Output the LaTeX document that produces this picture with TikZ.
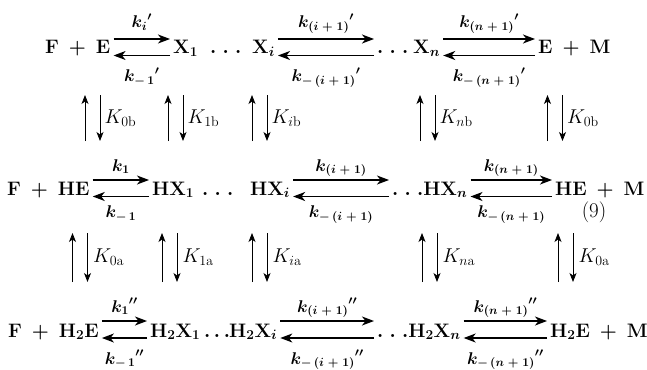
\RequirePackage{fix-cm}
\documentclass[tikz,border=0pt]{standalone}
\usepackage{amsmath}
\usetikzlibrary{arrows.meta,positioning}

\newcommand{\pls}{\mathbin{\mkern4mu+\mkern4mu}}
\newcommand{\dts}{.\;.\;.}

\begin{document}
\begin{tikzpicture}[x=1pt,y=-1pt,every node/.style={font=\fontsize{19.5}{22}\selectfont\boldmath,inner sep=3pt}]
\tikzstyle{sp}=[anchor=base west]
\tikzstyle{fwd}=[-{Stealth[length=12pt,width=9pt,inset=3.5pt]},line width=1.3pt]
\tikzstyle{vert}=[-{Stealth[length=9pt,width=7pt,inset=2.5pt]},line width=.8pt]
\tikzstyle{klab}=[anchor=base,inner sep=0pt,font=\fontsize{17}{20}\selectfont\boldmath]
\tikzstyle{Klab}=[anchor=west,inner sep=0pt,font=\fontsize{20}{23}\selectfont]

\useasboundingbox (0,0) rectangle (647,369);

% row E
\node[sp] (fe) at (42,54) {$\mathbf{F}\pls\mathbf{E}$};
\node[sp] (xa) at (170,54) {$\mathbf{X}_1$};
\node[sp] (d1a) at (207,54) {$\dts$};
\node[sp] (xi) at (249,54) {$\mathbf{X}_i$};
\node[sp] (d1b) at (374,54) {$\dts$};
\node[sp] (xn) at (410,54) {$\mathbf{X}_n$};
\node[sp] (em) at (535,54) {$\mathbf{E}\pls\mathbf{M}$};

% row HE
\node[sp] (fhe) at (4,195) {$\mathbf{F}\pls\mathbf{HE}$};
\node[sp] (hxa) at (149,195) {$\mathbf{HX}_1$};
\node[sp] (d2a) at (199,195) {$\dts$};
\node[sp] (hxi) at (247,195) {$\mathbf{HX}_i$};
\node[sp] (hxn) at (389,195) {$\dts\mathbf{HX}_n$};
\node[sp] (hem) at (552,195) {$\mathbf{HE}\pls\mathbf{M}$};
\node[font=\fontsize{21}{24}\selectfont] (eqno) at (594,212) {(9)};

% row H2E
\node[sp] (fhhe) at (5,337) {$\mathbf{F}\pls\mathbf{H}_2\mathbf{E}$};
\node[sp] (hhxa) at (147,337) {$\mathbf{H}_2\mathbf{X}_1\,.\,.\,.$};
\node[sp] (hhxi) at (226,337) {$\mathbf{H}_2\mathbf{X}_i$};
\node[sp] (hhxn) at (374,337) {$\dts\mathbf{H}_2\mathbf{X}_n$};
\node[sp] (hhem) at (547,337) {$\mathbf{H}_2\mathbf{E}\pls\mathbf{M}$};

% reaction arrows, row E
\draw[fwd] ([yshift=15pt]fe.base east) -- ([yshift=15pt]xa.base west) node[klab,midway,yshift=11pt] (k1f) {${k_i}'$};
\draw[fwd] ([yshift=-1.5pt]xa.base west) -- ([yshift=-1.5pt]fe.base east) node[klab,midway,yshift=-26pt] (k1r) {${k_{-\,1}}'$};
\draw[fwd] ([yshift=15pt]xi.base east) -- ([yshift=15pt]d1b.base west) node[klab,midway,yshift=11pt] (k2f) {${k_{(i\;+\;1)}}'$};
\draw[fwd] ([yshift=-1.5pt]d1b.base west) -- ([yshift=-1.5pt]xi.base east) node[klab,midway,yshift=-26pt] (k2r) {${k_{-\,(i\;+\;1)}}'$};
\draw[fwd] ([yshift=15pt]xn.base east) -- ([yshift=15pt]em.base west) node[klab,midway,yshift=11pt] (k3f) {${k_{(n\;+\;1)}}'$};
\draw[fwd] ([yshift=-1.5pt]em.base west) -- ([yshift=-1.5pt]xn.base east) node[klab,midway,yshift=-26pt] (k3r) {${k_{-\,(n\;+\;1)}}'$};

% reaction arrows, row HE
\draw[fwd] ([yshift=15pt]fhe.base east) -- ([yshift=15pt]hxa.base west) node[klab,midway,yshift=9pt] (k4f) {$k_1$};
\draw[fwd] ([yshift=-1.5pt]hxa.base west) -- ([yshift=-1.5pt]fhe.base east) node[klab,midway,yshift=-21pt] (k4r) {$k_{-\,1}$};
\draw[fwd] ([yshift=15pt]hxi.base east) -- ([yshift=15pt]hxn.base west) node[klab,midway,yshift=9pt] (k5f) {$k_{(i\;+\;1)}$};
\draw[fwd] ([yshift=-1.5pt]hxn.base west) -- ([yshift=-1.5pt]hxi.base east) node[klab,midway,yshift=-21pt] (k5r) {$k_{-\,(i\;+\;1)}$};
\draw[fwd] ([yshift=15pt]hxn.base east) -- ([yshift=15pt]hem.base west) node[klab,midway,yshift=9pt] (k6f) {$k_{(n\;+\;1)}$};
\draw[fwd] ([yshift=-1.5pt]hem.base west) -- ([yshift=-1.5pt]hxn.base east) node[klab,midway,yshift=-21pt] (k6r) {$k_{-\,(n\;+\;1)}$};

% reaction arrows, row H2E
\draw[fwd] ([yshift=16pt]fhhe.base east) -- ([yshift=16pt]hhxa.base west) node[klab,midway,yshift=9pt] (k7f) {${k_1}''$};
\draw[fwd] ([yshift=-1pt]hhxa.base west) -- ([yshift=-1pt]fhhe.base east) node[klab,midway,yshift=-26pt] (k7r) {${k_{-\,1}}''$};
\draw[fwd] ([yshift=16pt]hhxi.base east) -- ([yshift=16pt]hhxn.base west) node[klab,midway,yshift=9pt] (k8f) {${k_{(i\;+\;1)}}''$};
\draw[fwd] ([yshift=-1pt]hhxn.base west) -- ([yshift=-1pt]hhxi.base east) node[klab,midway,yshift=-26pt] (k8r) {${k_{-\,(i\;+\;1)}}''$};
\draw[fwd] ([yshift=16pt]hhxn.base east) -- ([yshift=16pt]hhem.base west) node[klab,midway,yshift=9pt] (k9f) {${k_{(n\;+\;1)}}''$};
\draw[fwd] ([yshift=-1pt]hhem.base west) -- ([yshift=-1pt]hhxn.base east) node[klab,midway,yshift=-26pt] (k9r) {${k_{-\,(n\;+\;1)}}''$};

% protonation equilibria E <-> HE
\coordinate (cb0) at (92.5,118);
\coordinate (cb1) at (175.5,118);
\coordinate (cbi) at (259.5,118);
\coordinate (cbn) at (427.5,118);
\coordinate (cbe) at (555,118);
\draw[vert] ([xshift=-7.5pt,yshift=-23pt]cb0) -- ++(0pt,46pt);
\draw[vert] ([xshift=7.5pt,yshift=23pt]cb0) -- ++(0pt,-46pt);
\node[Klab] (Kb0) at ([xshift=12pt]cb0) {$K_{0\mathrm{b}}$};
\draw[vert] ([xshift=-7.5pt,yshift=-23pt]cb1) -- ++(0pt,46pt);
\draw[vert] ([xshift=7.5pt,yshift=23pt]cb1) -- ++(0pt,-46pt);
\node[Klab] (Kb1) at ([xshift=12pt]cb1) {$K_{1\mathrm{b}}$};
\draw[vert] ([xshift=-7.5pt,yshift=-23pt]cbi) -- ++(0pt,46pt);
\draw[vert] ([xshift=7.5pt,yshift=23pt]cbi) -- ++(0pt,-46pt);
\node[Klab] (Kbi) at ([xshift=12pt]cbi) {$K_{i\mathrm{b}}$};
\draw[vert] ([xshift=-7.5pt,yshift=-23pt]cbn) -- ++(0pt,46pt);
\draw[vert] ([xshift=7.5pt,yshift=23pt]cbn) -- ++(0pt,-46pt);
\node[Klab] (Kbn) at ([xshift=12pt]cbn) {$K_{n\mathrm{b}}$};
\draw[vert] ([xshift=-7.5pt,yshift=-23pt]cbe) -- ++(0pt,46pt);
\draw[vert] ([xshift=7.5pt,yshift=23pt]cbe) -- ++(0pt,-46pt);
\node[Klab] (Kbe) at ([xshift=12pt]cbe) {$K_{0\mathrm{b}}$};

% protonation equilibria HE <-> H2E
\coordinate (ca0) at (80,257.5);
\coordinate (ca1) at (169.5,257.5);
\coordinate (cai) at (259.5,257.5);
\coordinate (can) at (429.5,257.5);
\coordinate (cae) at (565.5,257.5);
\draw[vert] ([xshift=-7.5pt,yshift=-24.5pt]ca0) -- ++(0pt,49pt);
\draw[vert] ([xshift=7.5pt,yshift=24.5pt]ca0) -- ++(0pt,-49pt);
\node[Klab] (Ka0) at ([xshift=13pt]ca0) {$K_{0\mathrm{a}}$};
\draw[vert] ([xshift=-7.5pt,yshift=-24.5pt]ca1) -- ++(0pt,49pt);
\draw[vert] ([xshift=7.5pt,yshift=24.5pt]ca1) -- ++(0pt,-49pt);
\node[Klab] (Ka1) at ([xshift=13pt]ca1) {$K_{1\mathrm{a}}$};
\draw[vert] ([xshift=-7.5pt,yshift=-24.5pt]cai) -- ++(0pt,49pt);
\draw[vert] ([xshift=7.5pt,yshift=24.5pt]cai) -- ++(0pt,-49pt);
\node[Klab] (Kai) at ([xshift=13pt]cai) {$K_{i\mathrm{a}}$};
\draw[vert] ([xshift=-7.5pt,yshift=-24.5pt]can) -- ++(0pt,49pt);
\draw[vert] ([xshift=7.5pt,yshift=24.5pt]can) -- ++(0pt,-49pt);
\node[Klab] (Kan) at ([xshift=13pt]can) {$K_{n\mathrm{a}}$};
\draw[vert] ([xshift=-7.5pt,yshift=-24.5pt]cae) -- ++(0pt,49pt);
\draw[vert] ([xshift=7.5pt,yshift=24.5pt]cae) -- ++(0pt,-49pt);
\node[Klab] (Kae) at ([xshift=13pt]cae) {$K_{0\mathrm{a}}$};
\end{tikzpicture}
\end{document}
